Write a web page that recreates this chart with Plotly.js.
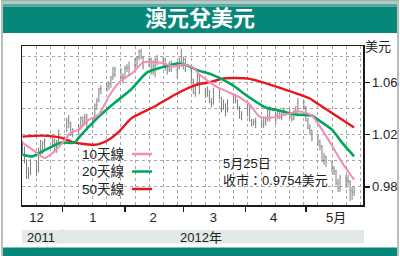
<!DOCTYPE html>
<html>
<head>
<meta charset="utf-8">
<script src="https://cdn.plot.ly/plotly-3.0.1.min.js"></script>
<style>
  html, body { margin: 0; padding: 0; background: #fff; }
  #chart { width: 400px; height: 256px; }
</style>
</head>
<body>
<div id="chart"></div>
<script>
// AUD/USD daily bars, Dec 2011 - May 2012
const dates = [
  '2011-12-12','2011-12-13','2011-12-14','2011-12-15','2011-12-16',
  '2011-12-19','2011-12-20','2011-12-21','2011-12-22','2011-12-23',
  '2011-12-27','2011-12-28','2011-12-29','2011-12-30',
  '2012-01-03','2012-01-04','2012-01-05','2012-01-06',
  '2012-01-09','2012-01-10','2012-01-11','2012-01-12','2012-01-13',
  '2012-01-16','2012-01-17','2012-01-18','2012-01-19','2012-01-20',
  '2012-01-23','2012-01-24','2012-01-25','2012-01-26','2012-01-27',
  '2012-01-30','2012-01-31','2012-02-01','2012-02-02','2012-02-03',
  '2012-02-06','2012-02-07','2012-02-08','2012-02-09','2012-02-10',
  '2012-02-13','2012-02-14','2012-02-15','2012-02-16','2012-02-17',
  '2012-02-20','2012-02-21','2012-02-22','2012-02-23','2012-02-24',
  '2012-02-27','2012-02-28','2012-02-29','2012-03-01','2012-03-02',
  '2012-03-05','2012-03-06','2012-03-07','2012-03-08','2012-03-09',
  '2012-03-12','2012-03-13','2012-03-14','2012-03-15','2012-03-16',
  '2012-03-19','2012-03-20','2012-03-21','2012-03-22','2012-03-23',
  '2012-03-26','2012-03-27','2012-03-28','2012-03-29','2012-03-30',
  '2012-04-02','2012-04-03','2012-04-04','2012-04-05','2012-04-06',
  '2012-04-09','2012-04-10','2012-04-11','2012-04-12','2012-04-13',
  '2012-04-16','2012-04-17','2012-04-18','2012-04-19','2012-04-20',
  '2012-04-23','2012-04-24','2012-04-25','2012-04-26','2012-04-27',
  '2012-04-30','2012-05-01','2012-05-02','2012-05-03','2012-05-04',
  '2012-05-07','2012-05-08','2012-05-09','2012-05-10','2012-05-11',
  '2012-05-14','2012-05-15','2012-05-16','2012-05-17','2012-05-18',
  '2012-05-21','2012-05-22','2012-05-23','2012-05-24','2012-05-25'
];
const openP = [
  1.0130,1.0080,1.0000,0.9880,0.9910, 0.9980,0.9920,1.0090,1.0080,1.0140,
  1.0150,1.0150,1.0080,1.0150,
  1.0230,1.0310,1.0290,1.0220, 1.0230,1.0250,1.0330,1.0300,1.0330,
  1.0290,1.0320,1.0430,1.0460,1.0550, 1.0550,1.0570,1.0590,1.0640,1.0660,
  1.0700,1.0640,1.0640,1.0710,1.0710, 1.0730,1.0780,1.0790,1.0840,1.0790,
  1.0730,1.0780,1.0680,1.0730,1.0780, 1.0760,1.0780,1.0720,1.0700,1.0720,
  1.0700,1.0720,1.0760,1.0730,1.0780, 1.0700,1.0620,1.0520,1.0580,1.0650,
  1.0530,1.0520,1.0540,1.0450,1.0440, 1.0540,1.0480,1.0400,1.0430,1.0380,
  1.0460,1.0490,1.0460,1.0410,1.0330, 1.0350,1.0420,1.0310,1.0280,1.0300,
  1.0290,1.0280,1.0300,1.0320,1.0390, 1.0320,1.0350,1.0380,1.0330,1.0370,
  1.0390,1.0340,1.0320,1.0380,1.0380, 1.0440,1.0410,1.0310,1.0250,1.0230,
  1.0170,1.0150,1.0110,1.0000,1.0030, 0.9990,0.9940,0.9920,0.9830,0.9790,
  0.9870,0.9840,0.9840,0.9770,0.9760
];
const highP = [
  1.0150,1.0110,1.0010,0.9950,1.0010, 1.0000,1.0100,1.0160,1.0150,1.0170,
  1.0180,1.0170,1.0160,1.0240,
  1.0330,1.0350,1.0300,1.0250, 1.0280,1.0340,1.0340,1.0360,1.0360,
  1.0330,1.0440,1.0480,1.0560,1.0580, 1.0600,1.0610,1.0650,1.0720,1.0720,
  1.0710,1.0670,1.0730,1.0740,1.0760, 1.0790,1.0800,1.0850,1.0860,1.0800,
  1.0790,1.0790,1.0770,1.0790,1.0810, 1.0800,1.0790,1.0740,1.0760,1.0770,
  1.0760,1.0790,1.0860,1.0800,1.0790, 1.0720,1.0630,1.0590,1.0670,1.0660,
  1.0560,1.0570,1.0540,1.0480,1.0560, 1.0560,1.0490,1.0470,1.0440,1.0470,
  1.0510,1.0510,1.0470,1.0420,1.0380, 1.0440,1.0440,1.0320,1.0320,1.0330,
  1.0310,1.0330,1.0340,1.0400,1.0420, 1.0370,1.0400,1.0390,1.0390,1.0410,
  1.0400,1.0360,1.0390,1.0420,1.0480, 1.0470,1.0420,1.0330,1.0280,1.0240,
  1.0200,1.0160,1.0120,1.0060,1.0040, 1.0000,0.9960,0.9930,0.9860,0.9890,
  0.9890,0.9890,0.9850,0.9800,0.9800
];
const lowP = [
  1.0050,0.9980,0.9860,0.9860,0.9890, 0.9880,0.9910,1.0030,1.0050,1.0090,
  1.0110,1.0060,1.0060,1.0140,
  1.0220,1.0250,1.0190,1.0180, 1.0200,1.0240,1.0260,1.0280,1.0230,
  1.0250,1.0310,1.0390,1.0450,1.0510, 1.0530,1.0540,1.0560,1.0620,1.0640,
  1.0620,1.0590,1.0630,1.0680,1.0650, 1.0700,1.0720,1.0770,1.0780,1.0700,
  1.0720,1.0660,1.0660,1.0640,1.0730, 1.0740,1.0690,1.0660,1.0680,1.0680,
  1.0630,1.0700,1.0720,1.0700,1.0680, 1.0600,1.0510,1.0490,1.0570,1.0510,
  1.0480,1.0490,1.0440,1.0410,1.0430, 1.0470,1.0370,1.0390,1.0340,1.0370,
  1.0440,1.0440,1.0390,1.0320,1.0310, 1.0340,1.0300,1.0260,1.0270,1.0250,
  1.0250,1.0250,1.0270,1.0300,1.0300, 1.0280,1.0320,1.0320,1.0310,1.0350,
  1.0320,1.0300,1.0310,1.0360,1.0370, 1.0390,1.0300,1.0240,1.0200,1.0150,
  1.0110,1.0080,0.9990,0.9970,0.9950, 0.9910,0.9890,0.9810,0.9760,0.9760,
  0.9790,0.9810,0.9690,0.9700,0.9730
];
const closeP = [
  1.0080,1.0000,0.9880,0.9910,0.9980, 0.9920,1.0090,1.0080,1.0140,1.0150,
  1.0150,1.0080,1.0150,1.0230,
  1.0310,1.0290,1.0220,1.0230, 1.0250,1.0330,1.0300,1.0330,1.0290,
  1.0320,1.0430,1.0460,1.0550,1.0550, 1.0570,1.0590,1.0640,1.0660,1.0700,
  1.0640,1.0640,1.0710,1.0710,1.0730, 1.0780,1.0790,1.0840,1.0790,1.0730,
  1.0780,1.0680,1.0730,1.0780,1.0760, 1.0780,1.0720,1.0700,1.0720,1.0700,
  1.0720,1.0760,1.0730,1.0780,1.0700, 1.0620,1.0520,1.0580,1.0650,1.0530,
  1.0520,1.0540,1.0450,1.0440,1.0540, 1.0480,1.0400,1.0430,1.0380,1.0460,
  1.0490,1.0460,1.0410,1.0330,1.0350, 1.0420,1.0310,1.0280,1.0300,1.0290,
  1.0280,1.0300,1.0320,1.0390,1.0320, 1.0350,1.0380,1.0330,1.0370,1.0390,
  1.0340,1.0320,1.0380,1.0380,1.0440, 1.0410,1.0310,1.0250,1.0230,1.0170,
  1.0150,1.0110,1.0000,1.0030,0.9990, 0.9940,0.9920,0.9830,0.9790,0.9870,
  0.9840,0.9840,0.9770,0.9760,0.9754
];

// moving averages
const ma10Dates = ['2011-12-12','2011-12-17','2011-12-23','2011-12-27','2012-01-01','2012-01-05',
  '2012-01-09','2012-01-14','2012-01-19','2012-01-24','2012-01-29','2012-02-05','2012-02-10',
  '2012-02-17','2012-02-22','2012-02-25','2012-03-01','2012-03-06','2012-03-09','2012-03-17',
  '2012-03-24','2012-03-29','2012-04-03','2012-04-08','2012-04-14','2012-04-21','2012-04-28',
  '2012-05-04','2012-05-09','2012-05-14','2012-05-19','2012-05-25'];
const ma10 = [1.0136,1.0085,1.0020,1.0060,1.0138,1.0215,
  1.0238,1.0315,1.0354,1.0495,1.0600,1.0677,1.0754,
  1.0756,1.0738,1.0723,1.0738,1.0715,1.0662,1.0572,
  1.0523,1.0485,1.0431,1.0338,1.0331,1.0354,1.0377,
  1.0346,1.0238,1.0115,0.9985,0.9854];

const ma20Dates = ['2011-12-12','2011-12-17','2011-12-22','2011-12-31','2012-01-07','2012-01-09',
  '2012-01-19','2012-01-27','2012-02-04','2012-02-12','2012-02-21','2012-02-27','2012-03-03',
  '2012-03-08','2012-03-15','2012-03-25','2012-04-02','2012-04-11','2012-04-19','2012-04-26',
  '2012-05-04','2012-05-07','2012-05-14','2012-05-19','2012-05-25'];
const ma20 = [1.0046,1.0033,1.0072,1.0138,1.0138,1.0177,
  1.0338,1.0446,1.0546,1.0677,1.0723,1.0746,1.0731,
  1.0695,1.0662,1.0585,1.0495,1.0408,1.0380,1.0354,
  1.0346,1.0315,1.0238,1.0138,1.0033];

const ma50Dates = ['2011-12-12','2011-12-22','2011-12-31','2012-01-07','2012-01-18','2012-01-24',
  '2012-01-29','2012-02-04','2012-02-16','2012-02-26','2012-03-08','2012-03-14','2012-03-21',
  '2012-04-03','2012-05-03','2012-05-05','2012-05-25'];
const ma50 = [1.0185,1.0192,1.0177,1.0138,1.0123,1.0162,
  1.0223,1.0323,1.0418,1.0508,1.0585,1.0602,1.0631,
  1.0628,1.0477,1.0456,1.0254];

const maNames = ['10天線','20天線','50天線'];
const maColors = ['#f28db4','#00a65a','#e8161d'];

// axis labels
const monthStarts = ['2012-01-01','2012-02-01','2012-03-01','2012-04-01','2012-05-01'];
const monthLabelDates = ['2011-12-19','2012-01-16','2012-02-15','2012-03-16','2012-04-15','2012-05-16'];
const monthLabels = ['12','1','2','3','4','5月'];
const yTickVals = [0.98, 1.02, 1.06];
const yTickText = ['0.98','1.02','1.06'];
const yMinorVals = [1.00, 1.04, 1.08];
const closeNote = ['5月25日', '收市：0.9754美元'];

const xRange = ['2011-12-11 18:00', '2012-05-29 10:00'];
const FONT = '"Liberation Sans", Arial, "Noto Sans CJK TC", sans-serif';
const TEAL = '#06877a';
const GRID = '#a8a8a8';

const traces = [
  {
    type: 'ohlc', x: dates, open: openP, high: highP, low: lowP, close: closeP,
    increasing: { line: { color: '#7e7e7e', width: 1 } },
    decreasing: { line: { color: '#7e7e7e', width: 1 } },
    tickwidth: 0.3, hoverinfo: 'skip', showlegend: false
  },
  { type: 'scatter', mode: 'lines', x: ma50Dates, y: ma50, xaxis: 'x2', yaxis: 'y',
    line: { color: maColors[2], width: 2.4, shape: 'spline', smoothing: 0.6 }, showlegend: false, hoverinfo: 'skip' },
  { type: 'scatter', mode: 'lines', x: ma20Dates, y: ma20, xaxis: 'x2', yaxis: 'y',
    line: { color: maColors[1], width: 2.6, shape: 'spline', smoothing: 0.6 }, showlegend: false, hoverinfo: 'skip' },
  { type: 'scatter', mode: 'lines', x: ma10Dates, y: ma10, xaxis: 'x2', yaxis: 'y',
    line: { color: maColors[0], width: 2, shape: 'spline', smoothing: 0.6 }, showlegend: false, hoverinfo: 'skip' }
];

// plot box: x 22..363, y 46..205 in page pixels
const L = 22, T = 46, W = 341, H = 159;
const px = v => (v - L) / W;
const py = v => (T + H - v) / H;

const shapes = [
  // outer frame
  { type: 'rect', xref: 'paper', yref: 'paper', x0: px(2), x1: px(398), y0: py(255), y1: py(0.5),
    line: { color: '#a9a9a9', width: 1.5 }, fillcolor: 'rgba(0,0,0,0)', layer: 'below' },
  // title band
  { type: 'rect', xref: 'paper', yref: 'paper', x0: px(3), x1: px(397), y0: py(33), y1: py(1),
    line: { width: 0 }, fillcolor: TEAL, layer: 'below' },
  { type: 'rect', xref: 'paper', yref: 'paper', x0: px(3), x1: px(397), y0: py(7), y1: py(1),
    line: { width: 0 }, fillcolor: '#5aa99f', layer: 'below' },
  { type: 'rect', xref: 'paper', yref: 'paper', x0: px(3), x1: px(397), y0: py(4), y1: py(1),
    line: { width: 0 }, fillcolor: '#a9cdc8', layer: 'below' },
  // year band
  { type: 'rect', xref: 'paper', yref: 'paper', x0: px(22), x1: px(61), y0: py(243.5), y1: py(230),
    line: { width: 0 }, fillcolor: '#e3e8e8', layer: 'below' },
  { type: 'rect', xref: 'paper', yref: 'paper', x0: px(63), x1: px(364), y0: py(243.5), y1: py(230),
    line: { width: 0 }, fillcolor: '#e3e8e8', layer: 'below' },
  { type: 'line', xref: 'paper', yref: 'paper', x0: px(62), x1: px(62), y0: py(244), y1: py(229),
    line: { color: '#c9cccc', width: 1 }, layer: 'below' },
  // bottom band
  { type: 'rect', xref: 'paper', yref: 'paper', x0: px(3), x1: px(397), y0: py(256), y1: py(247.5),
    line: { width: 0 }, fillcolor: TEAL, layer: 'below' }
];

// legend keys: text then a short line sample
const legendRows = [154, 171.5, 189];
const annotations = [];
maNames.forEach((name, i) => {
  shapes.push({ type: 'line', xref: 'paper', yref: 'paper', x0: px(132), x1: px(152),
    y0: py(legendRows[i]), y1: py(legendRows[i]), line: { color: maColors[i], width: 2.5 } });
  annotations.push({ xref: 'paper', yref: 'paper', x: px(127), y: py(legendRows[i]),
    xanchor: 'right', yanchor: 'middle', text: name, showarrow: false,
    font: { family: FONT, size: 13.5, color: '#222' } });
});

annotations.push(
  { xref: 'paper', yref: 'paper', x: px(221), y: py(171.5), xanchor: 'left', yanchor: 'middle',
    align: 'left', text: closeNote.join('<br>'), showarrow: false,
    font: { family: FONT, size: 13, color: '#222' } },
  { xref: 'paper', yref: 'paper', x: px(378), y: py(46), xanchor: 'center', yanchor: 'middle',
    text: '美元', showarrow: false, font: { family: FONT, size: 13, color: '#222' } },
  { xref: 'paper', yref: 'paper', x: px(41), y: py(237), xanchor: 'center', yanchor: 'middle',
    text: '2011', showarrow: false, font: { family: FONT, size: 13, color: '#222' } },
  { xref: 'paper', yref: 'paper', x: px(201), y: py(237), xanchor: 'center', yanchor: 'middle',
    text: '2012年', showarrow: false, font: { family: FONT, size: 13, color: '#222' } }
);

const layout = {
  width: 400, height: 256,
  margin: { l: L, r: 400 - L - W, t: T, b: 256 - T - H, pad: 0 },
  paper_bgcolor: '#ffffff', plot_bgcolor: '#ffffff',
  showlegend: false,
  title: {
    text: '<b>澳元兌美元</b>', xref: 'container', yref: 'container', x: 0.5, y: 1 - 18 / 256,
    xanchor: 'center', yanchor: 'middle',
    font: { family: '"Noto Sans CJK TC", sans-serif', size: 22, color: '#ffffff' }
  },
  xaxis: {
    type: 'date', range: xRange, rangeslider: { visible: false },
    tickmode: 'array', tickvals: monthLabelDates, ticktext: monthLabels,
    ticks: '', showgrid: false, zeroline: false,
    showline: true, mirror: true, linecolor: '#1a1a1a', linewidth: 1.5,
    tickfont: { family: FONT, size: 13, color: '#222' },
    minor: { tickmode: 'array', tickvals: monthStarts, ticks: 'outside', ticklen: 5,
      tickwidth: 1.5, tickcolor: '#1a1a1a', showgrid: false }
  },
  xaxis2: {
    type: 'date', overlaying: 'x', range: xRange, side: 'bottom',
    tickmode: 'linear', tick0: '2012-01-02', dtick: 7 * 86400000,
    showgrid: true, gridcolor: GRID, griddash: 'dot', gridwidth: 1,
    showticklabels: false, ticks: '', showline: false, zeroline: false
  },
  yaxis: {
    side: 'right', range: [0.966, 1.088],
    tickmode: 'array', tickvals: yTickVals, ticktext: yTickText,
    ticks: 'outside', ticklen: 5, tickwidth: 1.5, tickcolor: '#1a1a1a',
    showgrid: true, gridcolor: GRID, griddash: 'dot', gridwidth: 1, zeroline: false,
    showline: true, mirror: true, linecolor: '#1a1a1a', linewidth: 1.5,
    tickfont: { family: FONT, size: 13, color: '#222' },
    minor: { tickmode: 'array', tickvals: yMinorVals, ticks: '', showgrid: true,
      gridcolor: GRID, griddash: 'dot', gridwidth: 1 }
  },
  shapes: shapes,
  annotations: annotations
};

Plotly.newPlot('chart', traces, layout, { staticPlot: true, displayModeBar: false });
</script>
</body>
</html>
